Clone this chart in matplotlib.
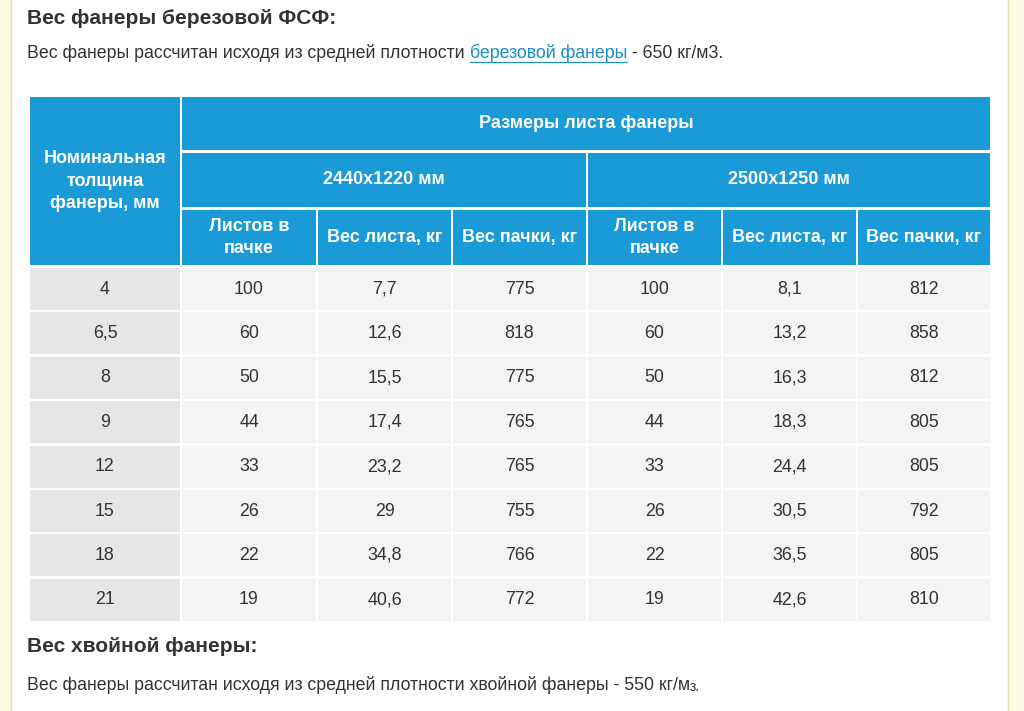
import matplotlib
matplotlib.use("Agg")
import matplotlib.pyplot as plt
from matplotlib.patches import Rectangle

thickness = ["4", "6,5", "8", "9", "12", "15", "18", "21"]
sheets_a = ["100", "60", "50", "44", "33", "26", "22", "19"]
sheet_w_a = ["7,7", "12,6", "15,5", "17,4", "23,2", "29", "34,8", "40,6"]
pack_w_a = ["775", "818", "775", "765", "765", "755", "766", "772"]
sheets_b = ["100", "60", "50", "44", "33", "26", "22", "19"]
sheet_w_b = ["8,1", "13,2", "16,3", "18,3", "24,4", "30,5", "36,5", "42,6"]
pack_w_b = ["812", "858", "812", "805", "805", "792", "805", "810"]
sub_headers = ["Листов в\nпачке", "Вес листа, кг", "Вес пачки, кг"]

FONT = "Liberation Sans"
fig = plt.figure(figsize=(10.24, 7.11), dpi=100)
ax = fig.add_axes([0, 0, 1, 1])
ax.set_xlim(0, 1024); ax.set_ylim(711, 0); ax.axis("off")
fig.patch.set_facecolor("white")
ax.add_patch(Rectangle((0, 0), 11, 711, color="#fdfde3"))
ax.plot([11, 11], [0, 711], color="#e0e0b0", lw=1)
ax.add_patch(Rectangle((1008, 0), 16, 711, color="#fdfde3"))
ax.plot([1008, 1008], [0, 711], color="#e0e0b0", lw=1)
renderer = fig.canvas.get_renderer()

BLUE = "#1a9ad7"
def cell(x0, x1, y0, y1, color, text, fc="white", bold=True, size=13):
    ax.add_patch(Rectangle((x0, y0), x1 - x0, y1 - y0, color=color, lw=0))
    ax.text((x0 + x1) / 2, (y0 + y1) / 2, text, ha="center", va="center",
            color=fc, fontsize=size, family=FONT,
            fontweight="bold" if bold else "normal", linespacing=1.45)

def chain(x, y, parts):
    for s, col, size, dy, ul in parts:
        t = ax.text(x, y + dy, s, fontsize=size, color=col, family=FONT, va="center")
        bb = t.get_window_extent(renderer)
        w = bb.width
        if ul:
            ax.plot([x, x + w], [y + 9, y + 9], color=col, lw=0.8)
        x += w

ax.text(27, 18, "Вес фанеры березовой ФСФ:", fontsize=15, fontweight="bold",
        color="#333333", family=FONT, va="center")
chain(27, 53, [("Вес фанеры рассчитан исходя из средней плотности ", "#333333", 12.8, 0, False),
               ("березовой фанеры", "#1a8fc4", 12.8, 0, True),
               (" - 650 кг/м3.", "#333333", 12.8, 0, False)])

cols = [(30, 180), (182, 316), (318, 451), (453, 586), (588, 721), (723, 856), (858, 990)]
cell(30, 180, 97, 265, BLUE, "Номинальная\nтолщина\nфанеры, мм")
cell(182, 990, 97, 150, BLUE, "Размеры листа фанеры")
cell(182, 586, 153, 207, BLUE, "2440x1220 мм")
cell(588, 990, 153, 207, BLUE, "2500x1250 мм")
for i, (x0, x1) in enumerate(cols[1:]):
    cell(x0, x1, 210, 265, BLUE, sub_headers[i % 3], size=13)

columns = [thickness, sheets_a, sheet_w_a, pack_w_a, sheets_b, sheet_w_b, pack_w_b]
for r in range(len(thickness)):
    y0 = 268 + r * 44.4
    for c, (x0, x1) in enumerate(cols):
        cell(x0, x1, y0, y0 + 42, "#e6e6e6" if c == 0 else "#f4f4f4",
             columns[c][r], fc="#333333", bold=False, size=12.8)

ax.text(27, 647, "Вес хвойной фанеры:", fontsize=15, fontweight="bold",
        color="#333333", family=FONT, va="center")
chain(27, 685, [("Вес фанеры рассчитан исходя из средней плотности хвойной фанеры - 550 кг/м", "#333333", 12.8, 0, False),
                ("з.", "#333333", 10, 2, False)])
fig.savefig("out.png", dpi=100)
